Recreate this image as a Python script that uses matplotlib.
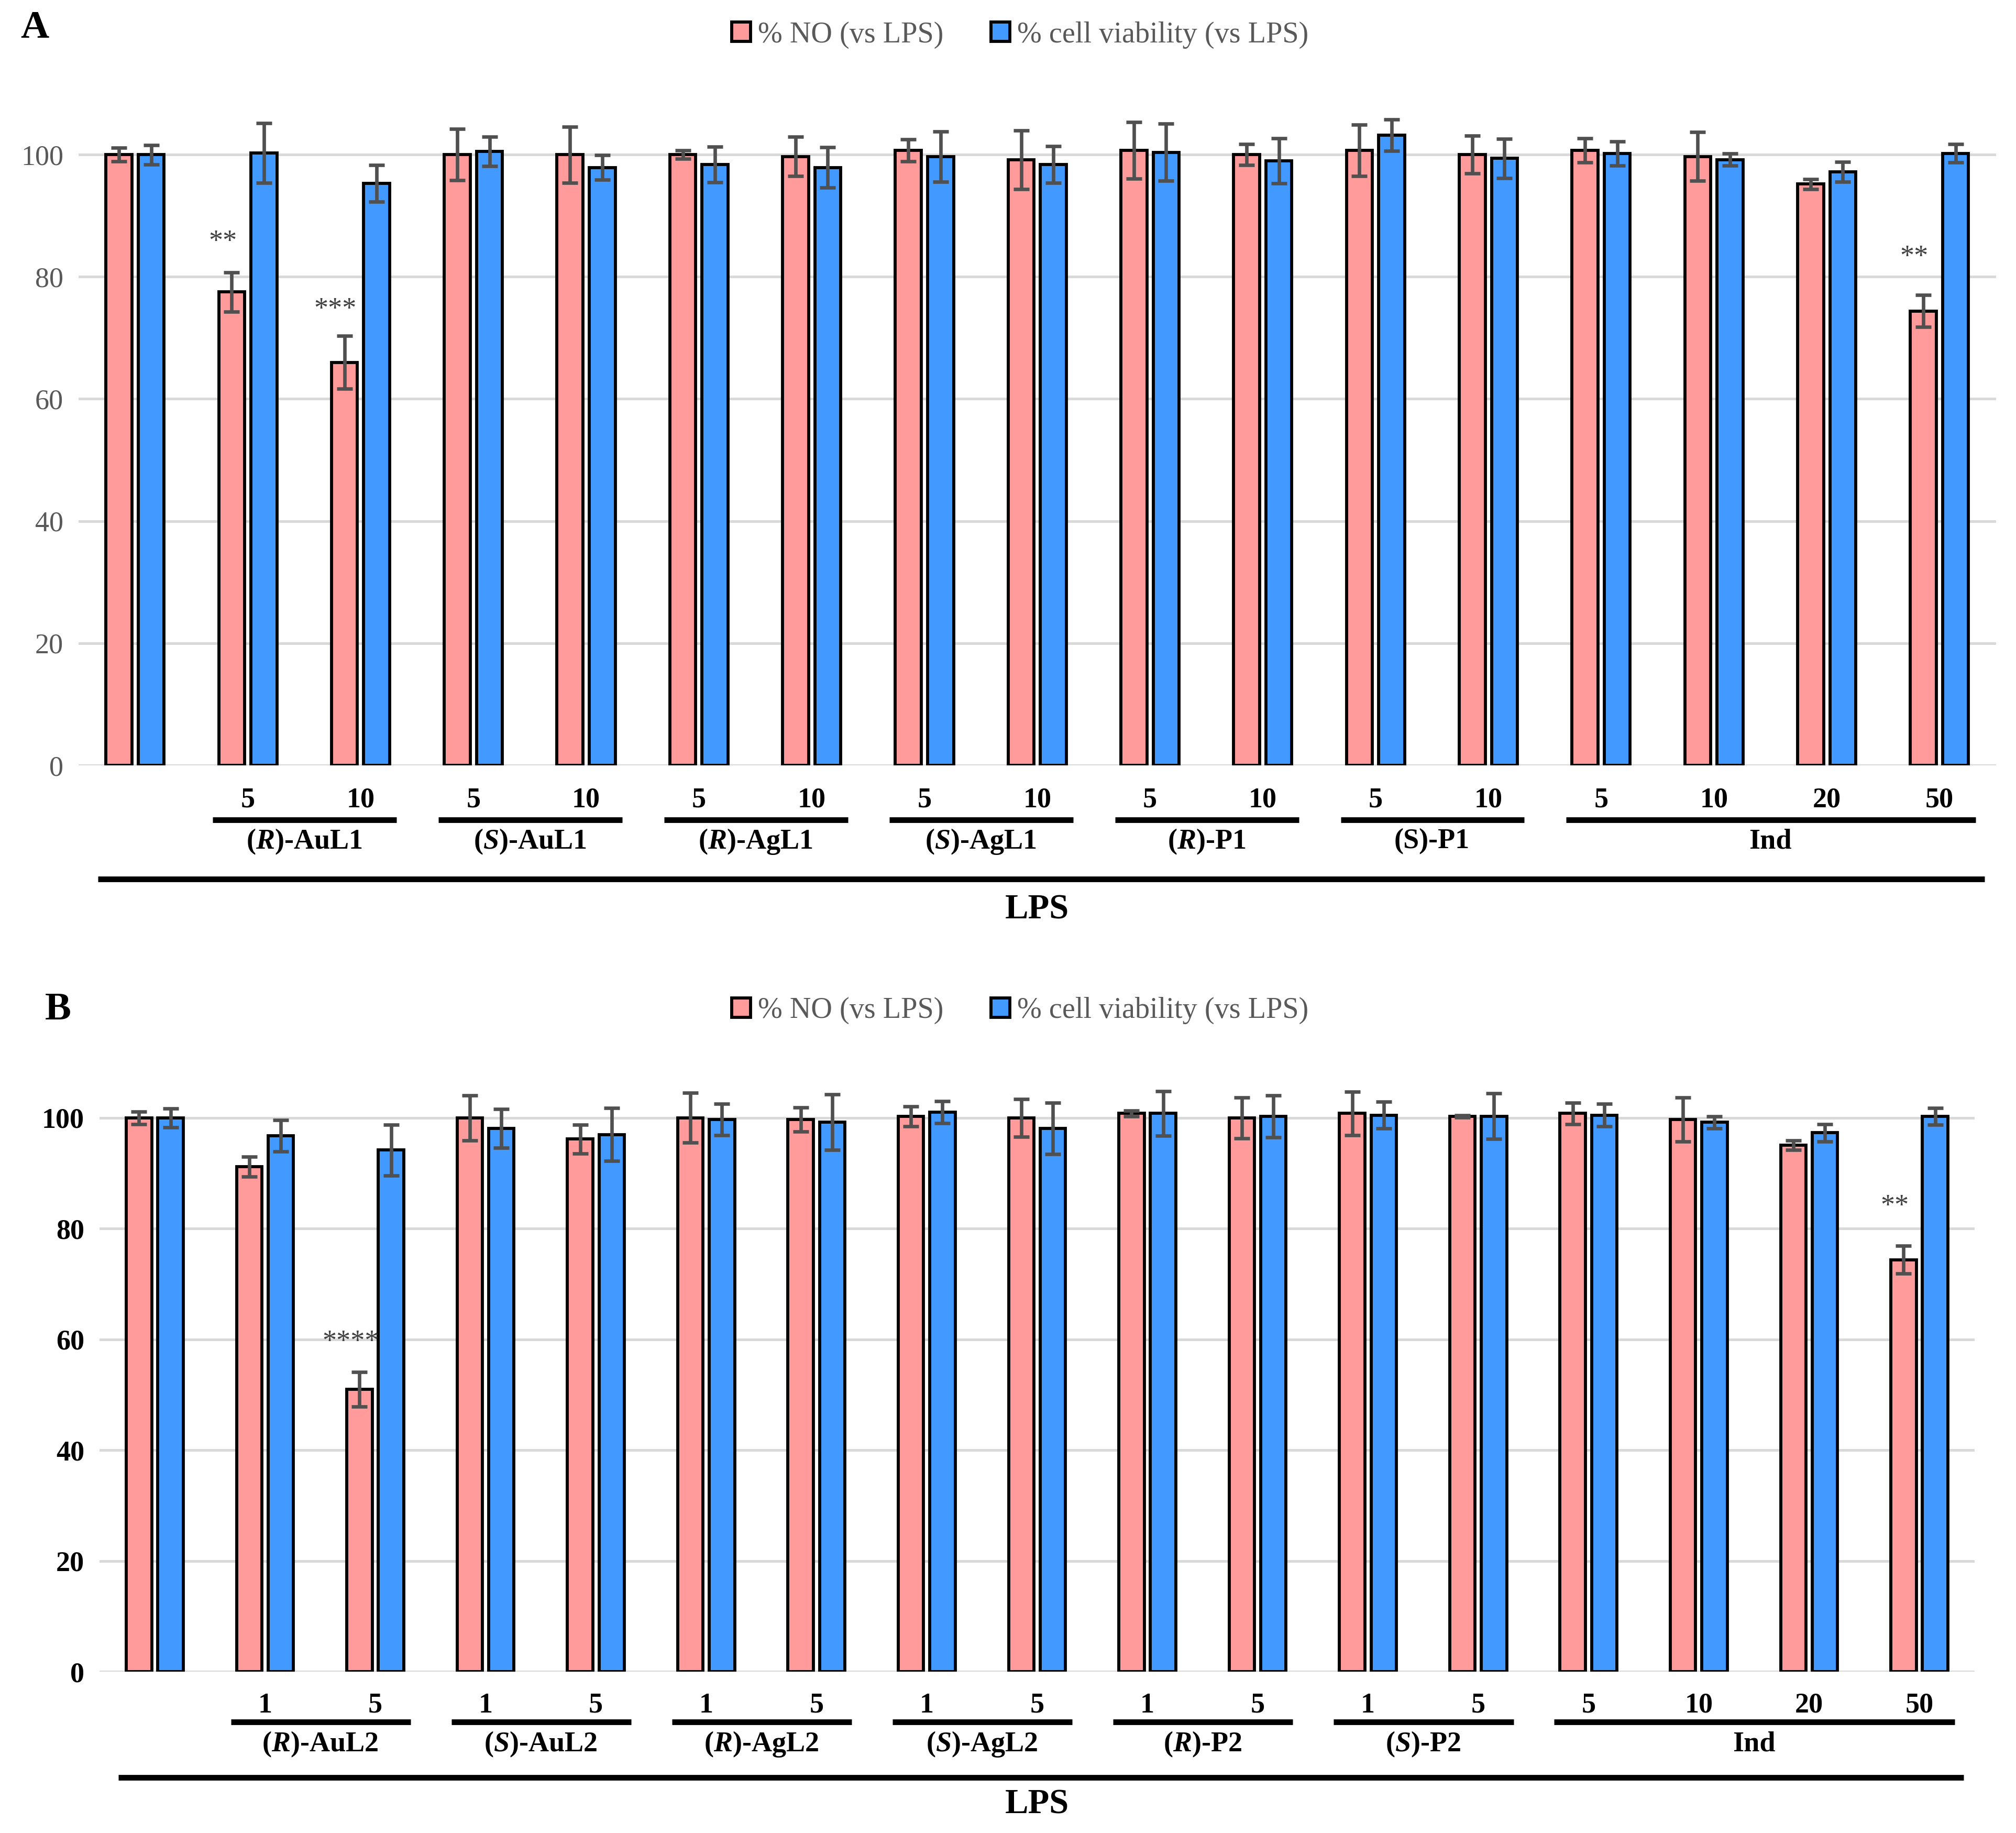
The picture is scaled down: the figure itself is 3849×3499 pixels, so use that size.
import matplotlib as mpl
mpl.use("Agg")
import matplotlib.pyplot as plt
from matplotlib.patches import Patch

plt.rcParams.update({
    "font.family": ["Liberation Serif", "DejaVu Serif"],
    "mathtext.fontset": "custom",
    "mathtext.rm": "Liberation Serif",
    "mathtext.it": "Liberation Serif:italic",
    "mathtext.bf": "Liberation Serif:bold",
    "mathtext.bfit": "Liberation Serif:italic:bold",
})

PINK = "#FF9B9B"
BLUE = "#4299FF"
ERRC = "#505050"
GRID = "#D9D9D9"

# --- panel A data --------------------------------------------------------
a_no = [100, 77.5, 66.0, 100, 100, 100, 99.7, 100.7, 99.2, 100.7, 100, 100.7, 100, 100.7, 99.7, 95.2, 74.4]
a_no_err = [1.1, 3.2, 4.3, 4.2, 4.6, 0.7, 3.2, 1.8, 4.8, 4.6, 1.7, 4.2, 3.1, 2.0, 4.0, 0.8, 2.6]
a_via = [100, 100.3, 95.3, 100.5, 97.9, 98.4, 97.9, 99.7, 98.4, 100.4, 99.0, 103.2, 99.4, 100.2, 99.2, 97.2, 100.2]
a_via_err = [1.6, 4.9, 3.0, 2.4, 2.0, 2.9, 3.3, 4.1, 3.0, 4.7, 3.7, 2.6, 3.2, 2.0, 1.0, 1.6, 1.5]
a_doses = ["", "5", "10", "5", "10", "5", "10", "5", "10", "5", "10", "5", "10", "5", "10", "20", "50"]
a_groups = [(r"($\mathbfit{R}$)-AuL1", 1, 2), (r"($\mathbfit{S}$)-AuL1", 3, 4),
            (r"($\mathbfit{R}$)-AgL1", 5, 6), (r"($\mathbfit{S}$)-AgL1", 7, 8),
            (r"($\mathbfit{R}$)-P1", 9, 10), ("(S)-P1", 11, 12), ("Ind", 13, 16)]
a_stars = [(1, "**", 85.6), (2, "***", 74.6), (16, "**", 83.1)]

# --- panel B data --------------------------------------------------------
b_no = [100, 91.2, 51.0, 100, 96.2, 100, 99.7, 100.3, 100, 100.8, 100, 100.8, 100.3, 100.8, 99.7, 95.1, 74.4]
b_no_err = [1.1, 1.8, 3.1, 4.1, 2.6, 4.5, 2.2, 1.8, 3.4, 0.5, 3.7, 3.9, 0.2, 1.9, 4.0, 0.85, 2.5]
b_via = [100, 96.8, 94.2, 98.1, 97.0, 99.7, 99.2, 101.0, 98.1, 100.8, 100.3, 100.5, 100.3, 100.5, 99.2, 97.3, 100.3]
b_via_err = [1.7, 2.85, 4.6, 3.5, 4.8, 2.85, 5.0, 2.0, 4.6, 4.0, 3.8, 2.4, 4.1, 2.0, 1.1, 1.55, 1.5]
b_doses = ["", "1", "5", "1", "5", "1", "5", "1", "5", "1", "5", "1", "5", "5", "10", "20", "50"]
b_groups = [(r"($\mathbfit{R}$)-AuL2", 1, 2), (r"($\mathbfit{S}$)-AuL2", 3, 4),
            (r"($\mathbfit{R}$)-AgL2", 5, 6), (r"($\mathbfit{S}$)-AgL2", 7, 8),
            (r"($\mathbfit{R}$)-P2", 9, 10), (r"($\mathbfit{S}$)-P2", 11, 12), ("Ind", 13, 16)]
b_stars = [(2, "****", 59.4), (16, "**", 83.9)]

LEG_LABELS = ["% NO (vs LPS)", "% cell viability (vs LPS)"]


def draw_panel(ax, no, no_err, via, via_err, doses, groups, stars, ypos, bold_ticks):
    n = len(no)
    x = list(range(n))
    off, w = 0.143, 0.23
    xp = [i - off for i in x]
    xb = [i + off for i in x]
    ax.bar(xp, no, width=w, color=PINK, edgecolor="black", linewidth=1.4, zorder=3)
    ax.bar(xb, via, width=w, color=BLUE, edgecolor="black", linewidth=1.4, zorder=3)
    ekw = dict(fmt="none", ecolor=ERRC, elinewidth=1.6, capsize=3.6, capthick=1.6, zorder=4)
    ax.errorbar(xp, no, yerr=no_err, **ekw)
    ax.errorbar(xb, via, yerr=via_err, **ekw)

    ax.set_xlim(-0.5, n - 0.5)
    ax.set_ylim(0, 112)
    ax.set_yticks(range(0, 101, 20))
    ax.set_xticks([])
    ax.yaxis.grid(True, color=GRID, lw=1.2, zorder=0)
    ax.set_axisbelow(True)
    for s in ax.spines.values():
        s.set_visible(False)
    ax.tick_params(axis="y", length=0, pad=7, labelsize=13,
                   labelcolor="black" if bold_ticks else "#595959")
    if bold_ticks:
        for t in ax.get_yticklabels():
            t.set_fontweight("bold")

    y_dose, y_br, y_grp, y_lps, y_lpst = ypos
    for i, d in enumerate(doses):
        if d:
            ax.text(i, y_dose, d, ha="center", va="center", fontsize=13,
                    fontweight="bold", clip_on=False)
    for lab, i0, i1 in groups:
        ax.plot([i0 - 0.31, i1 + 0.32], [y_br, y_br], color="black", lw=2.6,
                solid_capstyle="butt", clip_on=False)
        ax.text((i0 + i1) / 2, y_grp, lab, ha="center", va="center", fontsize=13,
                fontweight="bold", clip_on=False)
    ax.plot([-0.33, n - 0.6], [y_lps, y_lps], color="black", lw=2.6,
            solid_capstyle="butt", clip_on=False)
    ax.text((n - 1) / 2, y_lpst, "LPS", ha="center", va="center", fontsize=16,
            fontweight="bold", clip_on=False)

    for i, s, yv in stars:
        ax.text(i - off - 0.08, yv, s, ha="center", va="center", fontsize=13,
                color="#404040", zorder=5)


fig = plt.figure(figsize=(3849 / 300, 3499 / 300), dpi=300)
axA = fig.add_axes([0.039, 0.5825, 0.951, 0.3731])
axB = fig.add_axes([0.0494, 0.088, 0.930, 0.3384])

draw_panel(axA, a_no, a_no_err, a_via, a_via_err, a_doses, a_groups, a_stars,
           (-5.7, -8.9, -12.5, -18.6, -23.7), bold_ticks=False)
draw_panel(axB, b_no, b_no_err, b_via, b_via_err, b_doses, b_groups, b_stars,
           (-6.1, -9.1, -13.1, -19.1, -24.0), bold_ticks=True)

handles = [Patch(facecolor=PINK, edgecolor="black", linewidth=1.4),
           Patch(facecolor=BLUE, edgecolor="black", linewidth=1.4)]
for yl in (0.981, 0.4486):
    leg = fig.legend(handles, LEG_LABELS, loc="center", bbox_to_anchor=(0.506, yl),
                     ncol=2, frameon=False, fontsize=13.5, handlelength=0.65,
                     handleheight=0.65, handletextpad=0.25, columnspacing=1.6)
    for t in leg.get_texts():
        t.set_color("#595959")

fig.text(0.0173, 0.9845, "A", ha="center", va="center", fontsize=18, fontweight="bold")
fig.text(0.0288, 0.449, "B", ha="center", va="center", fontsize=18, fontweight="bold")

fig.savefig("out.png", dpi=300, facecolor="white")
